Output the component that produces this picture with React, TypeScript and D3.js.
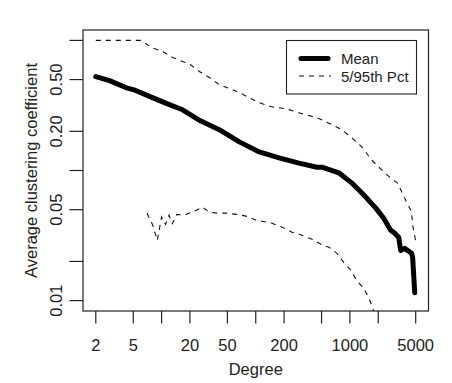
import React from "react";
import * as d3 from "d3";

// Mean curve
const meanDegree = [2, 2.8, 4.15, 5, 8, 12.1, 16.7, 25.8, 41, 67, 109, 177, 288, 447, 505, 764, 1050, 1476, 1884, 2286, 2712, 2992, 3296, 3460, 3812, 4522, 4640, 4880];
const meanValue = [0.527, 0.491, 0.434, 0.419, 0.363, 0.321, 0.293, 0.241, 0.206, 0.166, 0.139, 0.125, 0.114, 0.106, 0.106, 0.096, 0.08, 0.0625, 0.0514, 0.043, 0.0347, 0.033, 0.0307, 0.0243, 0.0252, 0.0231, 0.0215, 0.0115];

// 95th percentile
const upperDegree = [2, 3, 4, 5, 6, 6.3, 7.8, 10.2, 13.1, 16.7, 20.2, 25.2, 32.2, 41, 56, 67, 85, 109, 146, 210, 288, 447, 556, 822, 1050, 1337, 1706, 2178, 2712, 3214, 3910, 4522, 4640, 4980];
const upperValue = [1.0, 1.0, 1.0, 1.0, 1.0, 0.98, 0.883, 0.822, 0.739, 0.689, 0.653, 0.576, 0.518, 0.457, 0.419, 0.397, 0.363, 0.332, 0.309, 0.298, 0.278, 0.254, 0.237, 0.206, 0.178, 0.152, 0.12, 0.101, 0.0875, 0.08, 0.059, 0.048, 0.038, 0.029];

// 5th percentile
const lowerDegree = [7, 8, 9, 10, 11, 12, 13, 14.5, 17.5, 22.3, 27.1, 32.2, 39, 48.6, 62, 79, 101, 117, 149, 190, 243, 310, 396, 493, 600, 728, 863, 1025, 1186, 1406, 1589, 1750, 1950];
const lowerValue = [0.047, 0.0385, 0.029, 0.044, 0.0385, 0.0454, 0.039, 0.046, 0.0454, 0.0487, 0.0523, 0.0479, 0.047, 0.047, 0.046, 0.0446, 0.0415, 0.0407, 0.0393, 0.0367, 0.0335, 0.0318, 0.0296, 0.0271, 0.0257, 0.0231, 0.0196, 0.0171, 0.0142, 0.0124, 0.0105, 0.0087, 0.007];

const xTicks = [2, 5, 10, 20, 50, 100, 200, 500, 1000, 2000, 5000];
const xTickLabels = ["2", "5", "", "20", "50", "", "200", "", "1000", "", "5000"];
const yTicks = [0.01, 0.02, 0.05, 0.1, 0.2, 0.5, 1];
const yTickLabels = ["0.01", "", "0.05", "", "0.20", "0.50", ""];

const legendLabels = ["Mean", "5/95th Pct"];

const W = 452;
const H = 383;
const box = { left: 83, right: 428.5, top: 30, bottom: 311 };
const FONT = "'Liberation Sans', Arial, Helvetica, sans-serif";

function expandedLog(lo: number, hi: number): [number, number] {
  const a = Math.log10(lo);
  const b = Math.log10(hi);
  const d = (b - a) * 0.04;
  return [Math.pow(10, a - d), Math.pow(10, b + d)];
}

export default function App() {
  const x = d3.scaleLog().domain(expandedLog(2, 5000)).range([box.left, box.right]);
  const y = d3.scaleLog().domain(expandedLog(0.01, 1)).range([box.bottom, box.top]);

  const line = d3
    .line<[number, number]>()
    .x((d) => x(d[0]))
    .y((d) => y(d[1]));

  const meanPts = meanDegree.map((d, i) => [d, meanValue[i]] as [number, number]);
  const upPts = upperDegree.map((d, i) => [d, upperValue[i]] as [number, number]);
  const loPts = lowerDegree.map((d, i) => [d, lowerValue[i]] as [number, number]);

  const cx = (box.left + box.right) / 2;
  const cy = (box.top + box.bottom) / 2;

  return (
    <svg
      width={W}
      height={H}
      style={{ position: "absolute", left: 0, top: 0, background: "#fff" }}
      fontFamily={FONT}
    >
      <defs>
        <clipPath id="plotclip">
          <rect x={box.left} y={box.top} width={box.right - box.left} height={box.bottom - box.top} />
        </clipPath>
      </defs>
      <rect x={0} y={0} width={W} height={H} fill="#fff" />

      <g clipPath="url(#plotclip)" fill="none">
        <path d={line(upPts) || ""} stroke="#111" strokeWidth={1.1} strokeDasharray="5,5" />
        <path d={line(loPts) || ""} stroke="#111" strokeWidth={1.1} strokeDasharray="5,5" />
        <path d={line(meanPts) || ""} stroke="#000" strokeWidth={5} strokeLinecap="round" strokeLinejoin="round" />
      </g>

      {/* plot box */}
      <rect
        x={box.left}
        y={box.top}
        width={box.right - box.left}
        height={box.bottom - box.top}
        fill="none"
        stroke="#222"
        strokeWidth={1.2}
      />

      {/* x axis */}
      <g>
        {xTicks.map((t, i) => (
          <g key={"xt" + i}>
            <line x1={x(t)} x2={x(t)} y1={box.bottom} y2={box.bottom + 12.5} stroke="#222" strokeWidth={1.2} />
            {xTickLabels[i] && (
              <text x={x(t)} y={351} textAnchor="middle" fontSize={16.5} fill="#222">
                {xTickLabels[i]}
              </text>
            )}
          </g>
        ))}
        <text x={cx} y={374.5} textAnchor="middle" fontSize={16.5} fill="#222">
          Degree
        </text>
      </g>

      {/* y axis */}
      <g>
        {yTicks.map((t, i) => (
          <g key={"yt" + i}>
            <line x1={box.left - 13.5} x2={box.left} y1={y(t)} y2={y(t)} stroke="#222" strokeWidth={1.2} />
            {yTickLabels[i] && (
              <text
                transform={`translate(61.5,${y(t)}) rotate(-90)`}
                textAnchor="middle"
                fontSize={16.5}
                fill="#222"
              >
                {yTickLabels[i]}
              </text>
            )}
          </g>
        ))}
        <text
          transform={`translate(36.5,${cy}) rotate(-90)`}
          textAnchor="middle"
          fontSize={16.5}
          fill="#222"
        >
          Average clustering coefficient
        </text>
      </g>

      {/* legend */}
      <g>
        <rect x={286.5} y={40.5} width={130} height={53.5} fill="#fff" stroke="#222" strokeWidth={1.1} />
        <line x1={301} x2={328} y1={58.5} y2={58.5} stroke="#000" strokeWidth={5} strokeLinecap="round" />
        <line x1={299} x2={331} y1={76} y2={76} stroke="#111" strokeWidth={1.1} strokeDasharray="5,5" />
        <text x={341} y={64} fontSize={15} fill="#222">
          {legendLabels[0]}
        </text>
        <text x={341} y={81.5} fontSize={15} fill="#222">
          {legendLabels[1]}
        </text>
      </g>
    </svg>
  );
}
